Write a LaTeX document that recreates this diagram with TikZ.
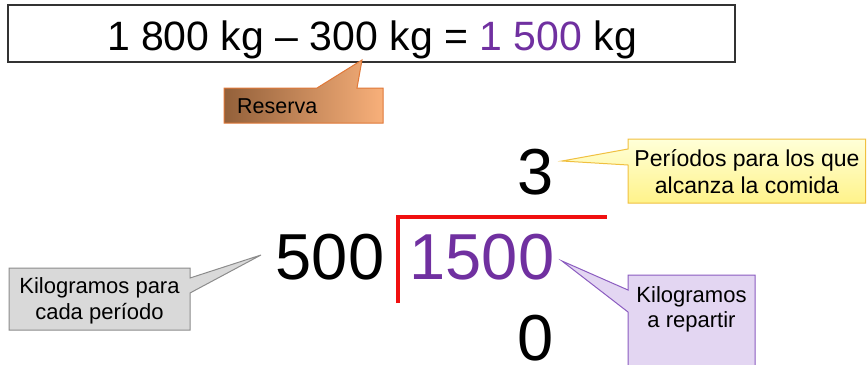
\documentclass[tikz,border=0pt]{standalone}
\usepackage{fontspec}
\setmainfont{Liberation Sans}
\definecolor{purp}{HTML}{7030A0}
\definecolor{resL}{HTML}{93603A}
\definecolor{resR}{HTML}{F8B07A}
\definecolor{resB}{HTML}{E07838}
\definecolor{yelT}{HTML}{FFFFD8}
\definecolor{yelB}{HTML}{FFF38A}
\definecolor{yelD}{HTML}{F0C040}
\definecolor{gryF}{HTML}{D9D9D9}
\definecolor{gryD}{HTML}{8C8C8C}
\definecolor{lilF}{HTML}{E3D6F2}
\definecolor{lilD}{HTML}{8B5CC0}
\definecolor{brk}{HTML}{F01010}
\begin{document}
\begin{tikzpicture}[x=1pt,y=-1pt,
  big/.style={inner sep=0pt, anchor=base, font=\fontsize{65}{65}\selectfont},
  lbl/.style={inner sep=0pt, anchor=base, font=\fontsize{22}{26}\selectfont},
  calloutline/.style={line width=1pt, line join=miter}]
\useasboundingbox (0,0) rectangle (867,364);
\clip (0,0) rectangle (867,364);
% top equation box
\node[draw=black!80, line width=1.3pt, minimum width=727pt, minimum height=57pt, inner sep=0pt] (eqbox) at (371.5,33.5) {};
\node[inner sep=0pt, anchor=base, font=\fontsize{41}{41}\selectfont] (eq) at (372,50) {1 800 kg – 300 kg = \textcolor{purp}{1 500} kg};
% numbers
\node[big] (three) at (536,194) {3};
\node[big] (divisor) at (330,279) {500};
\node[big, text=purp] (dividend) at (482,279) {1500};
\node[big] (rest) at (536,360) {0};
% division bracket
\draw[brk, line width=4pt] (398,303) -- (398,217) -- (607,217);
% Reserva callout
\coordinate (resTip) at (362,60);
\shadedraw[left color=resL, right color=resR, draw=resB, calloutline]
  (224,88) -- (317,88) -- (resTip) -- (357,88) -- (383,88) -- (383,123) -- (224,123) -- cycle;
\node[inner sep=0pt, anchor=base west, font=\fontsize{21.5}{26}\selectfont] (reserva) at (237,113) {Reserva};
% yellow callout
\coordinate (yelTip) at (562,161);
\shadedraw[top color=yelT, bottom color=yelB, draw=yelD, calloutline]
  (628,139) -- (865.5,139) -- (865.5,203) -- (628,203) -- (628,165) -- (yelTip) -- (628,149) -- cycle;
\node[lbl, font=\fontsize{23}{27}\selectfont] (per1) at (747,166) {Períodos para los que};
\node[lbl, font=\fontsize{23}{27}\selectfont] (per2) at (747,193) {alcanza la comida};
% gray callout
\coordinate (gryTip) at (261,255);
\filldraw[fill=gryF, draw=gryD, calloutline]
  (9,268) -- (190,268) -- (190,278) -- (gryTip) -- (190,293) -- (190,330) -- (9,330) -- cycle;
\node[lbl] (kg1) at (99.5,293) {Kilogramos para};
\node[lbl] (kg2) at (99.5,319) {cada período};
% lilac callout
\coordinate (lilTip) at (562,261);
\filldraw[fill=lilF, draw=lilD, calloutline]
  (628,275) -- (755,275) -- (755,380) -- (628,380) -- (628,312) -- (lilTip) -- (628,290) -- cycle;
\node[lbl] (rep1) at (691.5,302) {Kilogramos};
\node[lbl] (rep2) at (691.5,327) {a repartir};
\end{tikzpicture}
\end{document}
